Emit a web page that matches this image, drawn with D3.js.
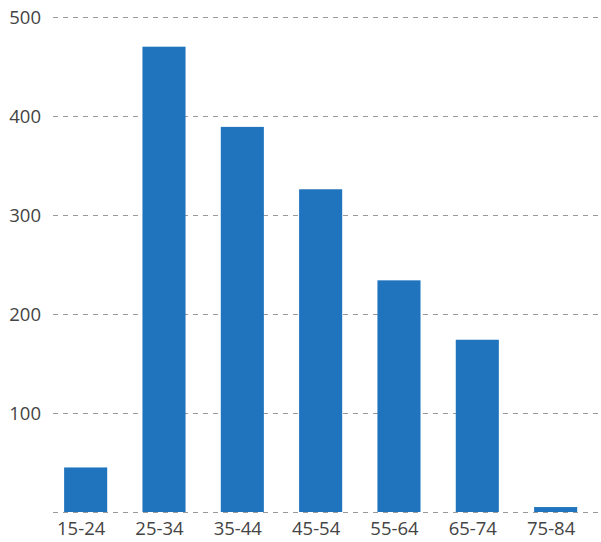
<!DOCTYPE html>
<html>
<head>
<meta charset="utf-8">
<script src="https://cdn.jsdelivr.net/npm/d3@7"></script>
<style>
  body { margin: 0; background: #fff; }
  svg text { font-family: "Open Sans", "Noto Sans", sans-serif; fill: #444; }
</style>
</head>
<body>
<svg id="chart" width="601" height="542"></svg>
<script>
// age groups and counts
const ageGroups = ["15-24", "25-34", "35-44", "45-54", "55-64", "65-74", "75-84"];
const counts = [45, 470, 389, 326, 234, 174, 5];
const yTicks = [0, 100, 200, 300, 400, 500];

const width = 601, height = 542;
const margin = { left: 53, right: 0, top: 17, bottom: 30 };

const svg = d3.select("#chart");

const x = d3.scaleBand()
    .domain(ageGroups)
    .range([46.5, 594.8])
    .paddingInner(0.45)
    .paddingOuter(0.225);

const y = d3.scaleLinear()
    .domain([0, 500])
    .range([height - margin.bottom, margin.top]);

// dashed gridlines
svg.append("g")
    .selectAll("line")
    .data(yTicks)
    .enter().append("line")
    .attr("x1", margin.left)
    .attr("x2", width)
    .attr("y1", d => Math.round(y(d)) + 0.5)
    .attr("y2", d => Math.round(y(d)) + 0.5)
    .attr("stroke", "#9a9a9a")
    .attr("stroke-width", 1)
    .attr("stroke-dasharray", "5,5");

// y labels (zero has none)
svg.append("g")
    .selectAll("text")
    .data(yTicks.filter(d => d > 0))
    .enter().append("text")
    .attr("x", 41)
    .attr("y", d => y(d))
    .attr("dy", "0.36em")
    .attr("text-anchor", "end")
    .style("font-size", "18.5px")
    .text(d => d);

// bars
svg.append("g")
    .selectAll("rect")
    .data(counts)
    .enter().append("rect")
    .attr("x", (d, i) => x(ageGroups[i]))
    .attr("width", x.bandwidth())
    .attr("y", d => y(d))
    .attr("height", d => y(0) - y(d))
    .attr("fill", "#1f74bd");

// x labels, sitting a little left of the bar centres like the original
svg.append("g")
    .selectAll("text")
    .data(ageGroups)
    .enter().append("text")
    .attr("x", d => x(d) + x.bandwidth() / 2 - 4.5)
    .attr("y", 535)
    .attr("text-anchor", "middle")
    .style("font-size", "18.5px")
    .text(d => d);
</script>
</body>
</html>
